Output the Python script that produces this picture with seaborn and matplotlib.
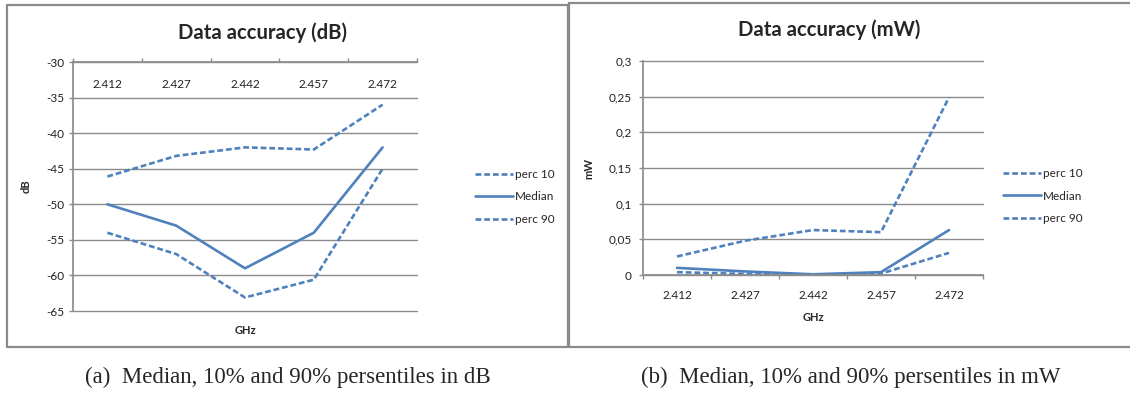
import matplotlib
matplotlib.use("Agg")
import matplotlib.pyplot as plt
from matplotlib.patches import Rectangle
import pandas as pd
import seaborn as sns

# data
GHZ = ["2.412", "2.427", "2.442", "2.457", "2.472"]
SERIES = ["perc 10", "Median", "perc 90"]

DB_P10 = [-46.1, -43.2, -42.0, -42.3, -36.0]
DB_MED = [-50.0, -53.0, -59.0, -54.0, -42.0]
DB_P90 = [-54.0, -57.0, -63.1, -60.6, -45.0]

MW_P10 = [0.026, 0.048, 0.063, 0.060, 0.249]
MW_MED = [0.010, 0.005, 0.001, 0.004, 0.063]
MW_P90 = [0.004, 0.0015, 0.0005, 0.002, 0.031]

DB_TICKS = [-65, -60, -55, -50, -45, -40, -35, -30]
MW_TICKS = [0, 0.05, 0.1, 0.15, 0.2, 0.25, 0.3]
MW_TICKLABELS = ["0", "0,05", "0,1", "0,15", "0,2", "0,25", "0,3"]

BLUE = "#4F81BD"
GRID = "#8c8c8c"
TXT = "#222222"
DASHES = {"perc 10": (2.2, 1.1), "Median": "", "perc 90": (2.2, 1.1)}
TICK_FS = 8.5

sns.set_theme(style="white")
plt.rcParams['font.family'] = ['Lato', 'DejaVu Sans']
plt.rcParams['axes.unicode_minus'] = False


def long_frame(p10, med, p90):
    rows = []
    for name, vals in zip(SERIES, [p10, med, p90]):
        for g, v in zip(GHZ, vals):
            rows.append({"GHz": g, "value": v, "series": name})
    return pd.DataFrame(rows)


def draw(ax, df, title, title_xy, ylabel, ylabel_x, legend_xy):
    sns.lineplot(data=df, x="GHz", y="value", style="series",
                 style_order=SERIES, dashes=DASHES, color=BLUE,
                 linewidth=1.9, sort=False, legend=False, ax=ax)
    ax.set_xlim(-0.5, len(GHZ) - 0.5)
    ax.set_xticks(range(len(GHZ)), GHZ)
    ax.set_xticks([i - 0.5 for i in range(len(GHZ) + 1)], minor=True)
    ax.grid(axis="y", color=GRID, linewidth=1.0)
    ax.grid(axis="x", visible=False)
    for s in ax.spines.values():
        s.set_visible(False)
    ax.spines["left"].set_visible(True)
    ax.spines["left"].set_color(GRID)
    ax.tick_params(axis="y", left=True, length=3, width=1, color=GRID,
                   labelsize=TICK_FS, labelcolor=TXT)
    ax.set_title(title, x=title_xy[0], y=title_xy[1], pad=0, va="center",
                 fontsize=14.6, fontweight="bold")
    ax.set_ylabel(ylabel, fontsize=8, fontweight="bold")
    ax.yaxis.set_label_coords(ylabel_x, 0.5)
    ax.legend(handles=ax.get_lines()[:3], labels=SERIES, loc="center left",
              bbox_to_anchor=legend_xy, frameon=False, borderaxespad=0,
              borderpad=0, handlelength=3.2, handletextpad=0.15,
              labelspacing=0.95, fontsize=8.5)


fig = plt.figure(figsize=(11.3, 3.93), dpi=100)

# panel frames
fig.patches.append(Rectangle((7 / 1130, 1 - 347 / 393), 561 / 1130, 342 / 393,
                             transform=fig.transFigure, fill=False,
                             edgecolor="#8a8a8a", linewidth=1.6))
fig.patches.append(Rectangle((569 / 1130, 1 - 347 / 393), 570 / 1130, 344 / 393,
                             transform=fig.transFigure, fill=False,
                             edgecolor="#8a8a8a", linewidth=1.6))

# (a) dB
ax1 = fig.add_axes([73 / 1130, 1 - 311 / 393, 344 / 1130, 249 / 393])
draw(ax1, long_frame(DB_P10, DB_MED, DB_P90), "Data accuracy (dB)",
     (0.552, 1.117), "dB", -0.119, (1.169, 0.458))
ax1.set_ylim(-65, -30)
ax1.set_yticks(DB_TICKS)
ax1.spines["top"].set_visible(True)
ax1.spines["top"].set_color(GRID)
ax1.tick_params(axis="x", which="major", length=0, top=False, bottom=False,
                labeltop=True, labelbottom=False, pad=-20, labelsize=TICK_FS,
                labelcolor=TXT)
ax1.tick_params(axis="x", which="minor", top=True, bottom=False, length=3,
                width=1, color=GRID, direction="out")
ax1.set_xlabel("GHz", fontsize=8, fontweight="bold", labelpad=4)

# (b) mW
ax2 = fig.add_axes([643 / 1130, 1 - 275 / 393, 340 / 1130, 214 / 393])
draw(ax2, long_frame(MW_P10, MW_MED, MW_P90), "Data accuracy (mW)",
     (0.547, 1.145), "mW", -0.144, (1.059, 0.369))
ax2.set_ylim(0, 0.3)
ax2.set_yticks(MW_TICKS, MW_TICKLABELS)
ax2.tick_params(axis="y", pad=5)
ax2.spines["bottom"].set_visible(True)
ax2.spines["bottom"].set_color(GRID)
ax2.tick_params(axis="x", which="major", length=0, bottom=False, pad=11,
                labelsize=TICK_FS, labelcolor=TXT)
ax2.tick_params(axis="x", which="minor", bottom=True, length=3, width=1,
                color=GRID, direction="out")
ax2.set_xlabel("GHz", fontsize=8, fontweight="bold", labelpad=8)

for ax in (ax1, ax2):
    for gl in ax.get_ygridlines():
        gl.set_clip_on(False)

# captions
fig.text(288 / 1130, 1 - 377 / 393, "(a)  Median, 10% and 90% persentiles in dB",
         ha="center", va="center", family="Liberation Serif", fontsize=16.5)
fig.text(851 / 1130, 1 - 377 / 393, "(b)  Median, 10% and 90% persentiles in mW",
         ha="center", va="center", family="Liberation Serif", fontsize=16.5)

fig.savefig("out.png", dpi=100)
